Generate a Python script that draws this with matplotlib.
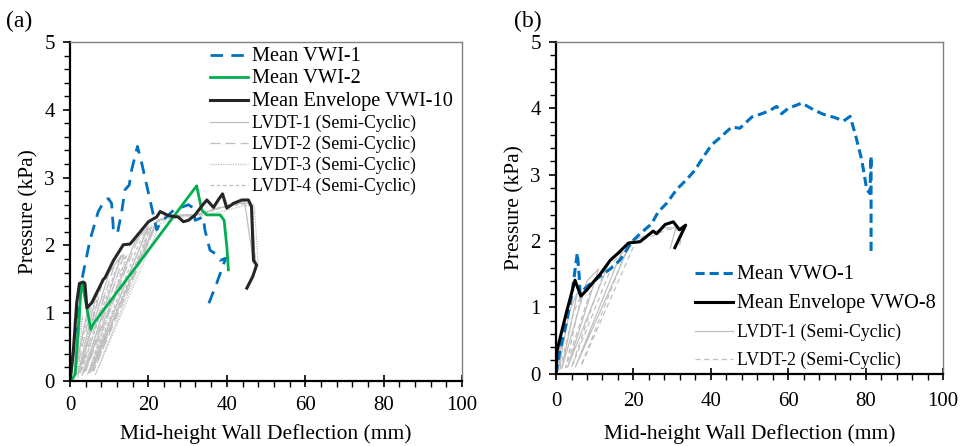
import numpy as np
import matplotlib.pyplot as plt
from matplotlib.ticker import MultipleLocator

plt.rcParams['font.family'] = ['Liberation Serif', 'DejaVu Serif']

# ---- panel (a) data ----
vwi1_x = [0, 1.5, 3.0, 5.1, 7.2, 8.9, 9.8, 10.6, 11.1, 12.1, 13.2, 14.0, 15.1, 15.7, 17.2, 18.3,
          20.4, 22.1, 23.0, 26.4, 30.2, 31.5, 31.9, 34.0, 34.4, 35.7, 37.0, 38.3, 39.7, 37.4, 34.9]
vwi1_y = [0, 0.8, 1.49, 2.08, 2.50, 2.67, 2.69, 2.62, 2.20, 2.18, 2.50, 2.82, 2.89, 3.11, 3.46, 3.21,
          2.67, 2.23, 2.33, 2.52, 2.60, 2.55, 2.37, 2.42, 2.23, 1.93, 1.88, 1.78, 1.81, 1.44, 1.07]

vwi2_x = [0.4, 1.3, 2.1, 2.9, 3.2, 5.3, 5.9, 32.3, 33.6, 34.9, 38.3, 39.3, 40.0, 40.4]
vwi2_y = [0.01, 0.10, 0.75, 1.44, 1.42, 0.76, 0.84, 2.88, 2.52, 2.45, 2.45, 2.37, 1.98, 1.64]

env10_x = [0, 0.8, 1.7, 2.4, 3.4, 3.8, 4.3, 5.5, 6.8, 8.5, 8.9, 11.1, 13.6, 15.3, 17.9, 20.0, 22.1,
           23.0, 24.7, 25.9, 27.6, 28.9, 30.2, 31.9, 33.6, 34.9, 36.6, 37.8, 38.9, 40.0, 41.7, 43.8,
           45.5, 46.3, 46.8, 47.6, 46.6, 45.1]
env10_y = [0, 0.41, 1.15, 1.44, 1.46, 1.44, 1.08, 1.15, 1.30, 1.50, 1.52, 1.78, 2.01, 2.02, 2.20, 2.35,
           2.42, 2.50, 2.45, 2.43, 2.42, 2.35, 2.37, 2.45, 2.58, 2.67, 2.56, 2.67, 2.76, 2.55, 2.62,
           2.67, 2.67, 2.57, 1.78, 1.71, 1.54, 1.37]

lvdt_a_x = [
    [0, 2.2, 1.0, 4.5, 7.0, 2.0, 10.0, 13.0, 3.5, 16.5, 20.0, 5.0, 22.0, 26.0, 32.0, 38.0, 42.0, 44.5, 46.8],
    [0, 2.8, 1.5, 5.5, 8.0, 2.5, 11.0, 14.0, 4.0, 17.0, 21.0, 6.0, 22.5, 27.0, 33.0, 39.0, 43.0, 46.0, 47.5],
    [0, 3.2, 2.0, 6.0, 9.0, 3.0, 12.0, 15.0, 4.5, 18.0, 21.5, 6.5, 23.0, 28.0, 34.0, 40.0, 44.0, 47.0, 48.0],
    [0, 2.5, 1.2, 5.0, 7.5, 2.8, 11.5, 14.5, 5.0, 17.5, 20.5, 5.5, 22.0, 27.0, 33.0, 39.0, 43.0, 46.5, 47.2],
]
lvdt_a_y = [
    [0, 1.00, 0.08, 1.05, 1.35, 0.10, 1.60, 1.85, 0.12, 2.05, 2.28, 0.12, 2.35, 2.45, 2.45, 2.55, 2.60, 2.65, 1.75],
    [0, 1.05, 0.10, 1.10, 1.40, 0.12, 1.65, 1.90, 0.15, 2.05, 2.30, 0.15, 2.38, 2.44, 2.46, 2.58, 2.62, 2.62, 1.68],
    [0, 0.95, 0.06, 1.00, 1.30, 0.08, 1.55, 1.80, 0.10, 2.00, 2.25, 0.10, 2.32, 2.42, 2.44, 2.52, 2.58, 2.60, 1.72],
    [0, 1.10, 0.12, 1.08, 1.38, 0.14, 1.62, 1.86, 0.16, 2.02, 2.26, 0.14, 2.34, 2.43, 2.45, 2.56, 2.60, 2.63, 1.70],
]

# ---- panel (b) data ----
vwo1_x = [0, 1.0, 2.8, 4.0, 4.9, 5.5, 6.0, 6.2, 7.9, 10.5, 14.0, 16.5, 19.6, 21.7, 24.7, 26.4, 28.6,
          31.2, 33.8, 35.9, 38.1, 40.2, 42.8, 45.4, 47.5, 50.6, 53.2, 55.3, 57.0, 58.3, 60.0, 63.5,
          66.5, 69.1, 72.1, 74.3, 76.0, 77.5, 79.0, 80.3, 81.1, 81.4, 81.4]
vwo1_y = [0, 0.35, 0.80, 1.16, 1.56, 1.82, 1.46, 1.21, 1.31, 1.43, 1.58, 1.71, 1.99, 2.11, 2.26, 2.44, 2.57,
          2.78, 2.93, 3.07, 3.27, 3.45, 3.58, 3.72, 3.70, 3.87, 3.92, 3.97, 4.03, 3.92, 4.00, 4.08,
          3.98, 3.91, 3.86, 3.81, 3.88, 3.57, 3.22, 2.77, 2.72, 3.28, 1.81]

env8_x = [0, 0.2, 1.0, 2.8, 4.9, 6.4, 7.9, 9.6, 11.4, 14.0, 16.1, 18.7, 21.7, 25.1, 26.0, 28.2, 30.3,
          31.9, 33.5, 30.7]
env8_y = [0, 0.33, 0.53, 0.95, 1.41, 1.17, 1.26, 1.38, 1.50, 1.71, 1.82, 1.97, 1.99, 2.15, 2.11, 2.25, 2.29,
          2.17, 2.24, 1.90]

lvdt_b_x = [
    [0, 1.5, 0.6, 3.5, 5.5, 1.5, 8.0, 11.0, 3.0, 14.0, 17.5, 5.0, 19.5, 24.0, 28.0, 31.0, 29.5],
    [0, 1.8, 1.0, 4.5, 6.5, 2.5, 9.5, 12.5, 4.0, 15.0, 18.5, 6.5, 20.5, 25.0, 29.0, 32.8, 31.8],
]
lvdt_b_y = [
    [0, 0.60, 0.05, 0.95, 1.22, 0.08, 1.40, 1.58, 0.10, 1.72, 1.92, 0.10, 2.00, 2.10, 2.20, 2.20, 1.89],
    [0, 0.55, 0.06, 0.92, 1.18, 0.09, 1.36, 1.55, 0.10, 1.70, 1.90, 0.12, 1.98, 2.08, 2.18, 2.16, 1.91],
]

fig = plt.figure(figsize=(9.62, 4.46), dpi=100)
ax1 = fig.add_axes([0.0728, 0.1457, 0.4075, 0.7601])
ax2 = fig.add_axes([0.578, 0.162, 0.4023, 0.7438])

gray = '#bfbfbf'
lvdt_styles_a = ['-', (0, (8, 4)), (0, (1, 1)), (0, (3, 2))]
lvdt_styles_b = ['-', (0, (4, 3))]

for i in range(4):
    ax1.plot(lvdt_a_x[i], lvdt_a_y[i], color=gray, lw=0.9, ls=lvdt_styles_a[i],
             label='LVDT-%d (Semi-Cyclic)' % (i + 1))
ax1.plot(vwi1_x, vwi1_y, color='#0070c0', lw=2.0, ls=(0, (4.5, 3)), label='Mean VWI-1')
ax1.plot(vwi2_x, vwi2_y, color='#00b050', lw=2.0, label='Mean VWI-2')
ax1.plot(env10_x, env10_y, color='#262626', lw=2.2, label='Mean Envelope VWI-10')

for i in range(2):
    ax2.plot(lvdt_b_x[i], lvdt_b_y[i], color=gray, lw=0.9, ls=lvdt_styles_b[i],
             label='LVDT-%d (Semi-Cyclic)' % (i + 1))
ax2.plot(vwo1_x, vwo1_y, color='#0070c0', lw=2.2, ls=(0, (3, 1.6)), label='Mean VWO-1')
ax2.plot(env8_x, env8_y, color='black', lw=2.2, label='Mean Envelope VWO-8')


def style(ax, xpad, label_y):
    ax.set_xlim(0, 100)
    ax.set_ylim(0, 5)
    ax.xaxis.set_major_locator(MultipleLocator(20))
    ax.xaxis.set_minor_locator(MultipleLocator(4))
    ax.yaxis.set_major_locator(MultipleLocator(1))
    ax.yaxis.set_minor_locator(MultipleLocator(0.2))
    ax.tick_params(axis='x', which='major', direction='inout', length=8, width=1.2, labelsize=15, pad=xpad)
    ax.tick_params(axis='x', which='minor', direction='out', length=4, width=1.0)
    ax.tick_params(axis='y', which='major', direction='out', length=5, width=1.2, labelsize=15, pad=6)
    ax.tick_params(axis='y', which='minor', direction='out', length=4, width=1.0)
    ax.spines['left'].set_linewidth(1.6)
    ax.spines['bottom'].set_linewidth(1.6)
    ax.spines['top'].set_color('#808080')
    ax.spines['right'].set_color('#808080')
    ax.spines['top'].set_linewidth(1.0)
    ax.spines['right'].set_linewidth(1.0)
    ax.set_xlabel('Mid-height Wall Deflection (mm)', fontsize=15.5)
    ax.xaxis.set_label_coords(0.5, label_y)
    ax.set_ylabel('Pressure (kPa)', fontsize=15.5, labelpad=4)


style(ax1, 7, -0.127)
style(ax2, 9, -0.151)

h, l = ax1.get_legend_handles_labels()
order = [4, 5, 6, 0, 1, 2, 3]
leg1 = ax1.legend([h[k] for k in order], [l[k] for k in order], loc='upper left',
                  bbox_to_anchor=(0.357, 0.986), frameon=False, fontsize=12.8,
                  handlelength=2.15, handletextpad=0.22, labelspacing=0.21,
                  borderaxespad=0, borderpad=0)
for k, t in enumerate(leg1.get_texts()):
    t.set_fontsize(14.7 if k < 3 else 12.8)

h, l = ax2.get_legend_handles_labels()
order = [2, 3, 0, 1]
leg2 = ax2.legend([h[k] for k in order], [l[k] for k in order], loc='lower left',
                  bbox_to_anchor=(0.359, 0.013), frameon=False, fontsize=12.8,
                  handlelength=2.15, handletextpad=0.22, labelspacing=0.6,
                  borderaxespad=0, borderpad=0)
for k, t in enumerate(leg2.get_texts()):
    t.set_fontsize(14.7 if k < 2 else 12.8)

fig.text(0.006, 0.94, '(a)', fontsize=17)
fig.text(0.534, 0.94, '(b)', fontsize=17)

fig.savefig('out.png', dpi=100)
